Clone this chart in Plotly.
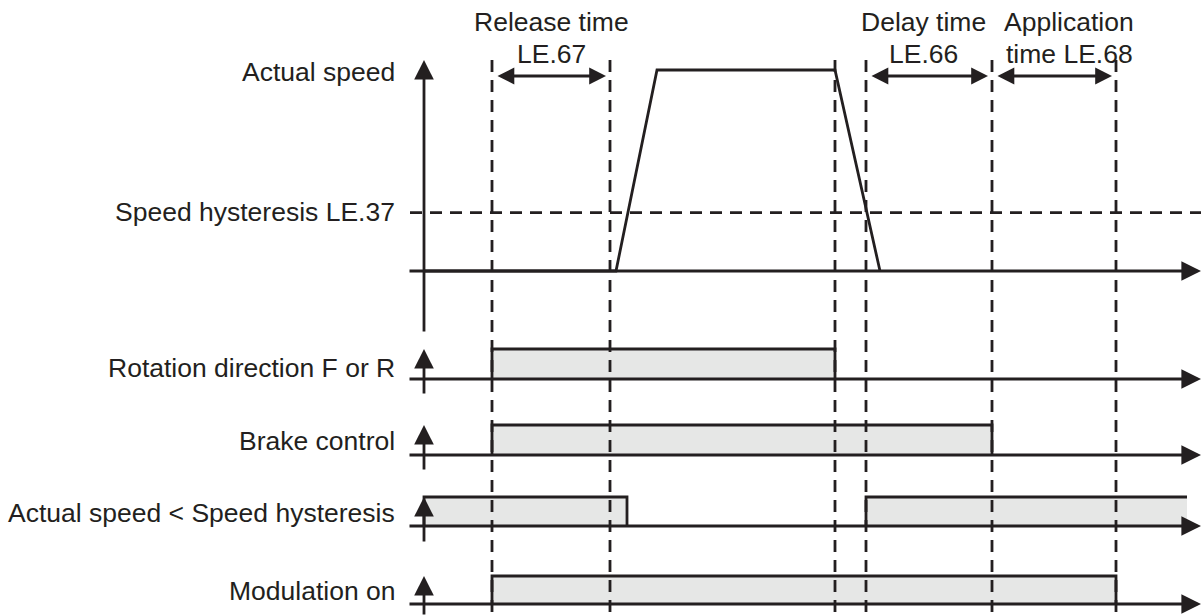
import plotly.graph_objects as go

# ---------------- data (time units, speed in %) ----------------
speed_t = [0, 192, 233, 411, 456]
speed_v = [0, 0, 100, 100, 0]
hysteresis_level = 29

rotation_on = [[68, 411]]
brake_on = [[68, 568]]
below_hyst_on = [[0, 203], [442, 763]]
modulation_on = [[68, 692]]

event_times = [68, 186, 411, 442, 568, 692]

interval_names = ["Release time", "Delay time", "Application"]
interval_params = ["LE.67", "LE.66", "time LE.68"]
interval_start = [68, 442, 568]
interval_end = [186, 568, 692]

row_labels = ["Rotation direction F or R", "Brake control",
              "Actual speed < Speed hysteresis", "Modulation on"]
row_data = [rotation_on, brake_on, below_hyst_on, modulation_on]
row_open_end = [False, False, True, False]

speed_label = "Actual speed"
hyst_label = "Speed hysteresis LE.37"
t_axis_start, t_axis_end = -16, 777

# ---------------- layout geometry ----------------
W, H = 1201, 616
X0PX = 424            # pixel of t = 0
INK = "#231f20"
FILL = "#e6e7e6"
FONT = dict(family="Liberation Sans, Arial, sans-serif", size=26.5, color=INK)
LW = 2.8
HEAD = 1.4
HEAD_SMALL = 1.2


def paper_y(px):
    return 1 - px / H


# speed panel: value 0 at px 271, value 100 at px 70
sp_base, sp_top = 271, 70
sp_scale = (sp_base - sp_top) / 100.0
speed_range = [(sp_base - H) / sp_scale, sp_base / sp_scale]

row_px = [(379, 349), (455, 425), (526, 497), (604, 576)]

fig = go.Figure()
layout_axes = {}
layout_axes["yaxis"] = dict(range=speed_range, visible=False, domain=[0, 1], fixedrange=True)
for i, (b, h) in enumerate(row_px):
    rng = [(b - H) / (b - h), b / (b - h)]
    layout_axes[f"yaxis{i+2}"] = dict(range=rng, visible=False, overlaying="y",
                                      domain=[0, 1], fixedrange=True)

shapes = []
annotations = []

# signal boxes
for i, (intervals, open_end) in enumerate(zip(row_data, row_open_end)):
    yref = f"y{i+2}"
    for k, (t0, t1) in enumerate(intervals):
        fig.add_trace(go.Scatter(x=[t0, t0, t1, t1, t0], y=[0, 1, 1, 0, 0], yaxis=yref,
                                 mode="lines", fill="toself", fillcolor=FILL,
                                 line=dict(width=0), hoverinfo="skip", showlegend=False))
        last_open = open_end and k == len(intervals) - 1
        xs = [t0, t0, t1] if last_open else [t0, t0, t1, t1]
        ys = [0, 1, 1] if last_open else [0, 1, 1, 0]
        fig.add_trace(go.Scatter(x=xs, y=ys, yaxis=yref, mode="lines",
                                 line=dict(color=INK, width=LW), hoverinfo="skip",
                                 showlegend=False))
    # horizontal time axis with arrow
    annotations.append(dict(x=t_axis_end, y=0, xref="x", yref=yref, ax=t_axis_start, ay=0,
                            axref="x", ayref="pixel", text="", showarrow=True,
                            arrowhead=2, arrowsize=HEAD, arrowwidth=LW, arrowcolor=INK))
    # small vertical arrow
    annotations.append(dict(x=0, y=1, xref="x", yref=yref, ax=0, ay=46, axref="pixel",
                            ayref="pixel", text="", showarrow=True, arrowhead=2,
                            arrowsize=HEAD, arrowwidth=LW, arrowcolor=INK))

# speed trace
fig.add_trace(go.Scatter(x=speed_t, y=speed_v, mode="lines", line=dict(color=INK, width=LW),
                         hoverinfo="skip", showlegend=False))
# speed panel axes
annotations.append(dict(x=t_axis_end, y=0, xref="x", yref="y", ax=t_axis_start, ay=0,
                        axref="x", ayref="pixel", text="", showarrow=True,
                        arrowhead=2, arrowsize=HEAD, arrowwidth=LW, arrowcolor=INK))
annotations.append(dict(x=0, y=paper_y(60), xref="x", yref="paper", ax=0, ay=273,
                        axref="pixel", ayref="pixel", text="", showarrow=True,
                        arrowhead=2, arrowsize=HEAD, arrowwidth=LW, arrowcolor=INK))
# hysteresis dashed line
shapes.append(dict(type="line", xref="x", yref="y", x0=-14, x1=t_axis_end,
                   y0=hysteresis_level, y1=hysteresis_level,
                   line=dict(color=INK, width=LW, dash="12px,8px"), layer="above"))
# event dashed verticals
for t in event_times:
    shapes.append(dict(type="line", xref="x", yref="paper", x0=t, x1=t,
                       y0=paper_y(60), y1=0,
                       line=dict(color=INK, width=LW, dash="12px,8px"), layer="above"))

# interval double arrows and labels
name_shift = [0, -6, 15]
for name, par, t0, t1, sh in zip(interval_names, interval_params, interval_start,
                                 interval_end, name_shift):
    annotations.append(dict(x=t1, y=paper_y(76), xref="x", yref="paper", ax=t0, ay=0,
                            axref="x", ayref="pixel", text="", showarrow=True,
                            arrowhead=2, startarrowhead=2, arrowside="end+start",
                            arrowsize=HEAD_SMALL, startarrowsize=HEAD_SMALL, arrowwidth=LW,
                            arrowcolor=INK, standoff=4, startstandoff=4))
    mid = (t0 + t1) / 2
    annotations.append(dict(x=mid, y=paper_y(22), xref="x", yref="paper", text=name,
                            showarrow=False, xanchor="center", yanchor="middle",
                            xshift=sh, font=FONT))
    annotations.append(dict(x=mid, y=paper_y(54), xref="x", yref="paper", text=par,
                            showarrow=False, xanchor="center", yanchor="middle",
                            xshift=sh, font=FONT))

# left labels
label_px = [72, 212] + [368, 441, 513, 591]
for txt, py in zip([speed_label, hyst_label] + row_labels, label_px):
    annotations.append(dict(x=397 / W, y=paper_y(py), xref="paper", yref="paper",
                            text=txt, showarrow=False, xanchor="right",
                            yanchor="middle", font=FONT))

fig.update_layout(
    width=W, height=H, margin=dict(l=0, r=0, t=0, b=0),
    paper_bgcolor="white", plot_bgcolor="white",
    xaxis=dict(range=[-X0PX, W - X0PX], visible=False, fixedrange=True),
    shapes=shapes, annotations=annotations, showlegend=False,
    **layout_axes,
)

fig.write_html("out.html", config=dict(displayModeBar=False),
               post_script="document.body.style.margin='0';")
